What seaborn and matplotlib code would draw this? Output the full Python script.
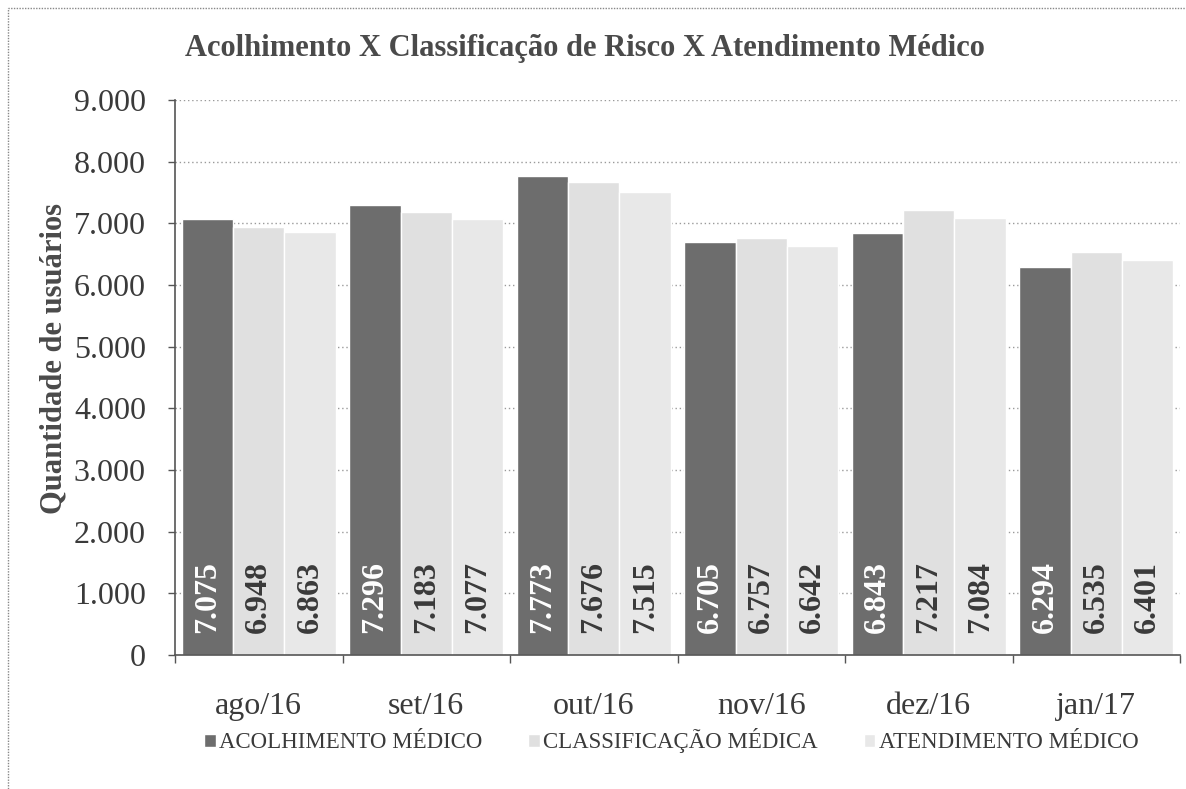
import numpy as np
import pandas as pd
import matplotlib.pyplot as plt
import seaborn as sns
from matplotlib.patches import Rectangle

meses = ['ago/16', 'set/16', 'out/16', 'nov/16', 'dez/16', 'jan/17']
series = ['ACOLHIMENTO MÉDICO', 'CLASSIFICAÇÃO MÉDICA', 'ATENDIMENTO MÉDICO']
acolhimento = [7075, 7296, 7773, 6705, 6843, 6294]
classificacao = [6948, 7183, 7676, 6757, 7217, 6535]
atendimento = [6863, 7077, 7515, 6642, 7084, 6401]
cores = ['#6d6d6d', '#e0e0e0', '#e8e8e8']
cor_rotulo = ['white', '#3a3a3a', '#3a3a3a']

df = pd.DataFrame({
    'mes': meses * 3,
    'serie': np.repeat(series, len(meses)),
    'valor': acolhimento + classificacao + atendimento,
})

sns.set_style('white')
plt.rcParams['font.family'] = ['Liberation Serif', 'DejaVu Serif']

fig = plt.figure(figsize=(11.86, 7.89), dpi=100)
ax = fig.add_axes([0.1476, 0.170, 0.8474, 0.703])

sns.barplot(data=df, x='mes', y='valor', hue='serie', order=meses,
            hue_order=series, palette=cores, width=0.92, gap=0,
            saturation=1, errorbar=None, ax=ax, legend=True)

# thousands separator with a dot
def fmt(v):
    return f'{int(v):,}'.replace(',', '.')

for i, cont in enumerate(ax.containers):
    for bar in cont:
        ax.annotate(fmt(bar.get_height()),
                    (bar.get_x() + bar.get_width() / 2, 0),
                    xytext=(0, 16), textcoords='offset points',
                    rotation=90, ha='center', va='bottom',
                    fontsize=23, fontweight='bold', color=cor_rotulo[i])

ax.set_ylim(0, 9000)
ax.set_xlim(-0.5, len(meses) - 0.5)
ax.set_yticks(range(0, 9001, 1000))
ax.set_yticklabels([fmt(v) for v in range(0, 9001, 1000)])
ax.yaxis.grid(True, linestyle=(0, (1, 2)), color='#9a9a9a', linewidth=1)
ax.set_axisbelow(True)

# excel-like ticks between categories
ax.set_xticks(np.arange(len(meses)))
ax.set_xticklabels(meses)
ax.set_xticks(np.arange(-0.5, len(meses)), minor=True)
ax.tick_params(axis='x', which='major', length=0, pad=27, labelsize=23,
               labelcolor='#3a3a3a')
ax.tick_params(axis='x', which='minor', length=6, width=1, color='#555555',
               direction='out', bottom=True)
ax.tick_params(axis='y', length=5, width=1, color='#555555', direction='out',
               left=True, labelsize=23, labelcolor='#3a3a3a', pad=16)

for s in ['top', 'right']:
    ax.spines[s].set_visible(False)
for s in ['left', 'bottom']:
    ax.spines[s].set_color('#555555')
    ax.spines[s].set_linewidth(1.2)
    ax.spines[s].set_linestyle((0, (1, 1)))

ax.set_xlabel('')
ax.set_ylabel('Quantidade de usuários', fontsize=22, fontweight='bold',
              color='#4a4a4a', labelpad=4, y=0.535)

fig.suptitle('Acolhimento X Classificação de Risco X Atendimento Médico',
             x=0.493, y=0.939, va='center', fontsize=22, fontweight='bold',
             color='#4a4a4a')

handles, labels = ax.get_legend_handles_labels()
ax.legend(handles, labels, loc='center', bbox_to_anchor=(0.566, 0.061),
          bbox_transform=fig.transFigure, ncol=3, frameon=False, fontsize=16.5,
          handlelength=0.5, handleheight=0.5, handletextpad=0.15,
          columnspacing=2.0, labelcolor='#3a3a3a')

fig.patches.append(Rectangle((0.007, -0.02), 1.02, 1.01, transform=fig.transFigure,
                             fill=False, edgecolor='#888888', linewidth=1,
                             linestyle=(0, (1, 1))))

fig.savefig('out.png', dpi=100)
